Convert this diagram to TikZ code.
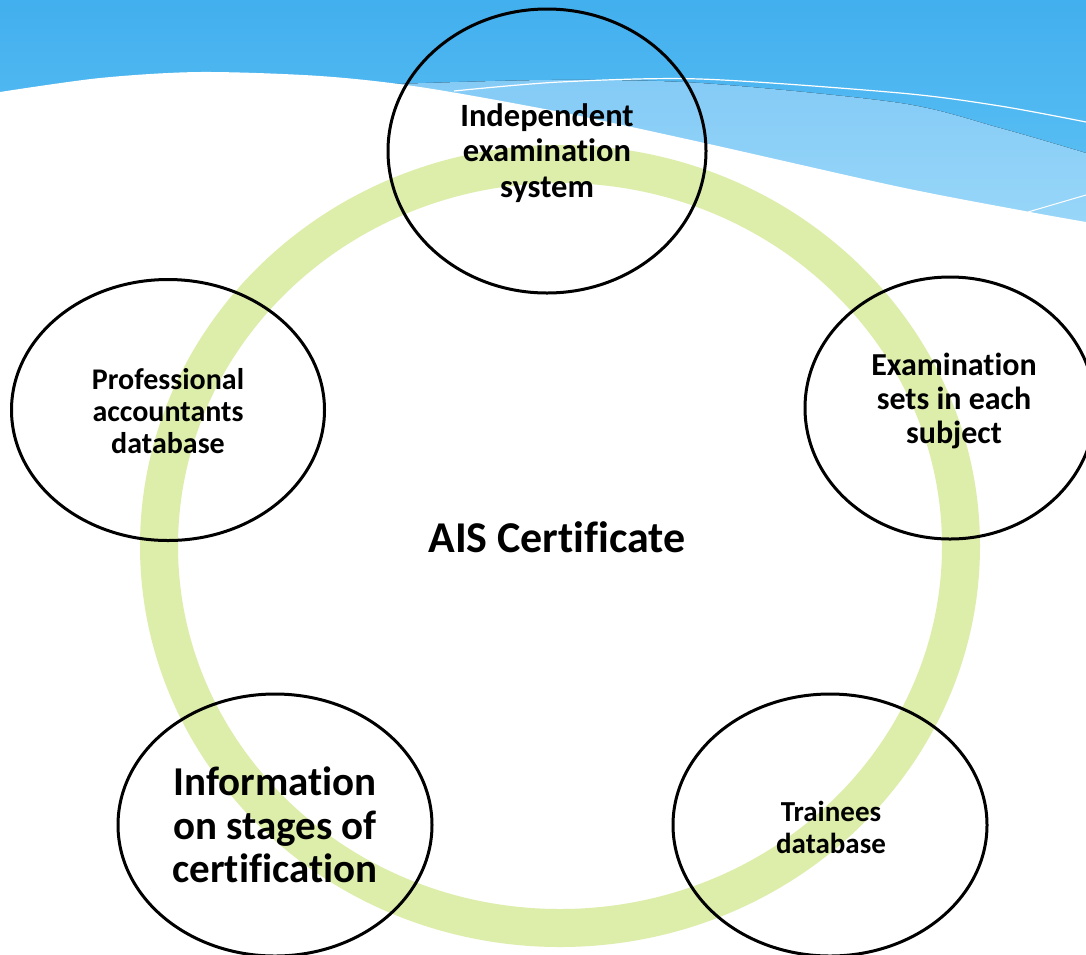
\documentclass[tikz,border=0pt]{standalone}
\usepackage{fontspec}
\setmainfont[Ligatures={NoCommon}]{Carlito}
\usetikzlibrary{shapes.geometric}
\definecolor{blueTop}{HTML}{42AFEE}
\definecolor{blueBot}{HTML}{62C4F5}
\definecolor{bandTop}{HTML}{84CBF6}
\definecolor{bandBot}{HTML}{A2DCFA}
\definecolor{ringgreen}{HTML}{DDEDAA}
\tikzset{
  bubble/.style={ellipse, draw=black, line width=3pt, inner sep=0pt},
  lbl/.style={align=center, font=\bfseries, text=black, inner sep=0pt},
}
\begin{document}
\begin{tikzpicture}[x=1pt,y=-1pt]
\useasboundingbox (0,0) rectangle (1086,954);
\clip (0,0) rectangle (1086,954);
% background waves
\fill[white] (0,0) rectangle (1086,954);
\fill[top color=blueTop, bottom color=blueBot] (0,0) rectangle (1086,240);
\fill[top color=bandTop, bottom color=bandBot]
  plot[smooth] coordinates {(395,84) (550,80) (700,83) (900,103) (1000,128) (1086,153)}
  -- (1086,300) -- (395,300) -- cycle;
\fill[white]
  plot[smooth] coordinates {(0,92) (100,78) (200,72) (320,76) (420,87) (560,112) (700,142) (900,187) (1030,212) (1086,222)}
  -- (1086,954) -- (0,954) -- cycle;
\draw[white, line width=1.2pt]
  plot[smooth] coordinates {(454,91) (560,82) (700,79) (900,93) (1000,106) (1086,122)};
\draw[white, line width=1pt] (1028,212) -- (1086,195);
% ring
\draw[ringgreen, line width=38pt] (560,546) ellipse [x radius=401pt, y radius=382pt];
% bubbles
\node[bubble, minimum width=318pt, minimum height=284pt] (top) at (547,151) {};
\node[bubble, minimum width=290pt, minimum height=262pt] (right) at (950,408) {};
\node[bubble, minimum width=314pt, minimum height=262pt] (bright) at (830,825) {};
\node[bubble, minimum width=314pt, minimum height=262pt] (bleft) at (275,825) {};
\node[bubble, minimum width=313pt, minimum height=261pt] (left) at (168,410) {};
% labels
\node[lbl, font=\bfseries\fontsize{32.5}{35.5}\selectfont] (ltop) at (547,153) {Independent\\examination\\system};
\node[lbl, font=\bfseries\fontsize{32}{34}\selectfont] (lright) at (954,401) {Examination\\sets in each\\subject};
\node[lbl, font=\bfseries\fontsize{30}{32}\selectfont] (lleft) at (168,411) {Professional\\accountants\\database};
\node[lbl, font=\bfseries\fontsize{29}{32}\selectfont] (lbright) at (831,827) {Trainees\\database};
\node[lbl, font=\bfseries\fontsize{41}{43.5}\selectfont] (lbleft) at (275,825) {Information\\on stages of\\certification};
\node[lbl, font=\bfseries\fontsize{44}{48}\selectfont] (center) at (557,537) {AIS Certificate};
\end{tikzpicture}
\end{document}
